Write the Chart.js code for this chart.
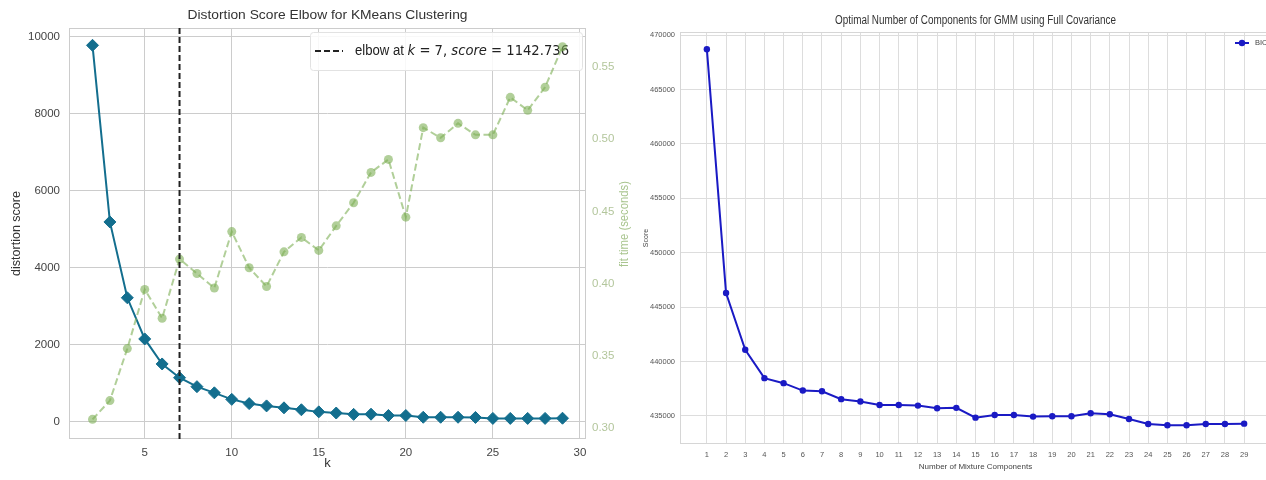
<!DOCTYPE html>
<html>
<head>
<meta charset="utf-8">
<title>KMeans elbow and GMM BIC</title>
<script src="https://cdn.jsdelivr.net/npm/chart.js@4.4.1/dist/chart.umd.min.js"></script>
<style>
  html, body { margin: 0; padding: 0; background: #fff; overflow: hidden; }
  #wrap { position: relative; width: 1266px; height: 480px; overflow: hidden; }
  #elbowChart { position: absolute; left: 0; top: 0; }
  #gmmChart { position: absolute; left: 640px; top: 0; }
</style>
</head>
<body>
<div id="wrap">
  <canvas id="elbowChart" width="640" height="480"></canvas>
  <canvas id="gmmChart" width="640" height="480"></canvas>
</div>
<script>
// ---- left panel: KMeans elbow ----
const elbowTitle = "Distortion Score Elbow for KMeans Clustering";
const kValues = [2, 3, 4, 5, 6, 7, 8, 9, 10, 11, 12, 13, 14, 15, 16, 17, 18, 19, 20, 21, 22, 23, 24, 25, 26, 27, 28, 29];
const distortion = [9780, 5190, 3220, 2150, 1500, 1142.736, 910, 750, 580, 470, 410, 360, 310, 255, 225, 190, 195, 160, 160, 115, 115, 115, 110, 85, 85, 85, 85, 90];
const fitTime = [0.306, 0.319, 0.355, 0.396, 0.376, 0.417, 0.407, 0.397, 0.436, 0.411, 0.398, 0.422, 0.432, 0.423, 0.440, 0.456, 0.477, 0.486, 0.446, 0.508, 0.501, 0.511, 0.503, 0.503, 0.529, 0.520, 0.536, 0.564];
const elbowK = 7;
const elbowScore = 1142.736;
const kTicks = [5, 10, 15, 20, 25, 30];
const distTicks = [0, 2000, 4000, 6000, 8000, 10000];
const timeTicks = [0.30, 0.35, 0.40, 0.45, 0.50, 0.55];

// ---- right panel: GMM BIC ----
const gmmTitle = "Optimal Number of Components for GMM using Full Covariance";
const components = [1, 2, 3, 4, 5, 6, 7, 8, 9, 10, 11, 12, 13, 14, 15, 16, 17, 18, 19, 20, 21, 22, 23, 24, 25, 26, 27, 28, 29];
const bic = [468700, 446300, 441080, 438470, 438010, 437330, 437270, 436540, 436320, 436010, 436010, 435950, 435710, 435740, 434840, 435090, 435090, 434940, 434970, 434970, 435250, 435150, 434720, 434260, 434140, 434140, 434260, 434260, 434290];
const bicTicks = [435000, 440000, 445000, 450000, 455000, 460000, 465000, 470000];

Chart.defaults.font.family = "'Liberation Sans', Arial, sans-serif";
Chart.defaults.animation = false;

// draw text squeezed / stretched to a given width
function fitText(ctx, text, x, y, width, font, color, angle) {
  ctx.save();
  ctx.font = font;
  ctx.fillStyle = color;
  ctx.textAlign = "center";
  ctx.textBaseline = "middle";
  ctx.translate(x, y);
  if (angle) ctx.rotate(angle);
  const w = ctx.measureText(text).width;
  ctx.scale(width / w, 1);
  ctx.fillText(text, 0, 0);
  ctx.restore();
}

const frame = {
  id: "frame",
  beforeDatasetsDraw(chart, args, opts) {
    const { ctx, chartArea: a } = chart;
    ctx.save();
    ctx.strokeStyle = opts.color;
    ctx.lineWidth = 1;
    ctx.strokeRect(Math.round(a.left) + 0.5, Math.round(a.top) + 0.5,
      Math.round(a.right - a.left) - 1, Math.round(a.bottom - a.top) - 1);
    ctx.restore();
  },
};

const toXY = (xs, ys) => xs.map((x, i) => ({ x: x, y: ys[i] }));

// left chart extras: title, legend box, elbow line, twin axis label
const elbowExtras = {
  id: "elbowExtras",
  beforeDatasetsDraw(chart) {
    const { ctx, chartArea: a } = chart;
    // legend box
    const bx = a.right - 276, by = a.top + 4, bw = 272, bh = 38;
    ctx.save();
    ctx.fillStyle = "rgba(255,255,255,0.85)";
    ctx.strokeStyle = "#e2e2e2";
    ctx.lineWidth = 1;
    ctx.beginPath();
    ctx.roundRect(bx + 0.5, by + 0.5, bw, bh, 3);
    ctx.fill();
    ctx.stroke();
    const my = by + bh / 2;
    ctx.strokeStyle = "#222";
    ctx.lineWidth = 2;
    ctx.setLineDash([6, 3]);
    ctx.beginPath();
    ctx.moveTo(bx + 5, my);
    ctx.lineTo(bx + 33, my);
    ctx.stroke();
    ctx.setLineDash([]);
    // mixed text: elbow at k = 7, score = 1142.736
    const parts = [
      ["elbow at ", "14px 'Liberation Sans', Arial, sans-serif"],
      ["k", "italic 14px 'DejaVu Sans', sans-serif"],
      [" = " + elbowK + ", ", "14px 'DejaVu Sans', sans-serif"],
      ["score", "italic 14px 'DejaVu Sans', sans-serif"],
      [" = " + elbowScore.toFixed(3), "14px 'DejaVu Sans', sans-serif"],
    ];
    let total = 0;
    parts.forEach(p => { ctx.font = p[1]; total += ctx.measureText(p[0]).width; });
    const sx = 214 / total;
    ctx.translate(bx + 45, my);
    ctx.scale(sx, 1);
    ctx.fillStyle = "#222";
    ctx.textBaseline = "middle";
    ctx.textAlign = "left";
    let cx = 0;
    parts.forEach(p => {
      ctx.font = p[1];
      ctx.fillText(p[0], cx, 0);
      cx += ctx.measureText(p[0]).width;
    });
    ctx.restore();
  },
  afterDatasetsDraw(chart) {
    const { ctx, chartArea: a, scales } = chart;
    const px = scales.x.getPixelForValue(elbowK);
    ctx.save();
    ctx.strokeStyle = "#222";
    ctx.lineWidth = 2;
    ctx.setLineDash([6, 3]);
    ctx.beginPath();
    ctx.moveTo(px, a.top);
    ctx.lineTo(px, a.bottom);
    ctx.stroke();
    ctx.restore();
  },
  afterDraw(chart) {
    const { ctx, chartArea: a } = chart;
    fitText(ctx, elbowTitle, (a.left + a.right) / 2, 15, 280, "13px 'Liberation Sans', Arial, sans-serif", "#333");
    fitText(ctx, "fit time (seconds)", chart.width - 15, 224, 86, "12.5px 'Liberation Sans', Arial, sans-serif", "#a9c58f", -Math.PI / 2);
  },
};

new Chart(document.getElementById("elbowChart"), {
  type: "line",
  data: {
    datasets: [
      {
        label: "distortion score",
        data: toXY(kValues, distortion),
        yAxisID: "y",
        borderColor: "#136e8e",
        backgroundColor: "#136e8e",
        borderWidth: 2,
        pointStyle: "rectRot",
        pointRadius: 6,
        pointBorderWidth: 1,
        order: 2,
      },
      {
        label: "fit time",
        data: toXY(kValues, fitTime),
        yAxisID: "y1",
        borderColor: "rgba(125, 175, 85, 0.6)",
        backgroundColor: "rgba(125, 175, 85, 0.6)",
        borderWidth: 2,
        borderDash: [7, 3.5],
        pointRadius: 4.5,
        pointBorderWidth: 0,
        order: 1,
      },
    ],
  },
  options: {
    responsive: false,
    layout: { padding: { top: 28, left: 0, right: 0, bottom: 0 } },
    plugins: { legend: { display: false }, tooltip: { enabled: false }, frame: { color: "#cccccc" } },
    scales: {
      x: {
        type: "linear",
        min: 0.65,
        max: 30.35,
        afterBuildTicks: s => { s.ticks = kTicks.map(v => ({ value: v })); },
        afterFit: s => { s.height = 41; },
        ticks: { color: "#444", font: { size: 11.5 }, padding: 7, maxRotation: 0 },
        grid: { color: "#cccccc", drawTicks: false },
        border: { display: false },
        title: { display: true, text: "k", color: "#333", font: { size: 13 }, padding: { top: 0, bottom: 9 } },
      },
      y: {
        type: "linear",
        position: "left",
        min: -450,
        max: 10230,
        afterBuildTicks: s => { s.ticks = distTicks.map(v => ({ value: v })); },
        afterFit: s => { s.width = 69; },
        ticks: { color: "#444", font: { size: 11.5 }, padding: 9, callback: v => String(v) },
        grid: { color: "#cccccc", drawTicks: false },
        border: { display: false },
        title: { display: true, text: "distortion score", color: "#333", font: { size: 12.5 }, padding: { top: 9, bottom: 0 } },
      },
      y1: {
        type: "linear",
        position: "right",
        min: 0.2924,
        max: 0.577,
        afterBuildTicks: s => { s.ticks = timeTicks.map(v => ({ value: v })); },
        afterFit: s => { s.width = 54; },
        ticks: { color: "#b3c69c", font: { size: 11.5 }, padding: 6, callback: v => v.toFixed(2) },
        grid: { display: false, drawTicks: false },
        border: { display: false },
      },
    },
  },
  plugins: [frame, elbowExtras],
});

// right chart extras: title and BIC legend
const gmmExtras = {
  id: "gmmExtras",
  afterDraw(chart) {
    const { ctx, chartArea: a } = chart;
    fitText(ctx, gmmTitle, (a.left + a.right) / 2, 21, 281, "12.5px 'Liberation Sans', Arial, sans-serif", "#333");
    const ly = a.top + 11;
    const lx = a.right - 36;
    ctx.save();
    ctx.strokeStyle = "#1a1ac4";
    ctx.fillStyle = "#1a1ac4";
    ctx.lineWidth = 2;
    ctx.beginPath();
    ctx.moveTo(lx, ly);
    ctx.lineTo(lx + 14, ly);
    ctx.stroke();
    ctx.beginPath();
    ctx.arc(lx + 7, ly, 3.2, 0, Math.PI * 2);
    ctx.fill();
    ctx.fillStyle = "#444";
    ctx.font = "7.5px 'Liberation Sans', Arial, sans-serif";
    ctx.textBaseline = "middle";
    ctx.fillText("BIC", lx + 20, ly);
    ctx.restore();
  },
};

new Chart(document.getElementById("gmmChart"), {
  type: "line",
  data: {
    datasets: [
      {
        label: "BIC",
        data: toXY(components, bic),
        borderColor: "#1a1ac4",
        backgroundColor: "#1a1ac4",
        borderWidth: 2,
        pointRadius: 3.2,
        pointBorderWidth: 0,
      },
    ],
  },
  options: {
    responsive: false,
    layout: { padding: { top: 32, left: 0, right: 9, bottom: 0 } },
    plugins: { legend: { display: false }, tooltip: { enabled: false }, frame: { color: "#d6d6d6" } },
    scales: {
      x: {
        type: "linear",
        min: -0.4,
        max: 30.4,
        afterBuildTicks: s => { s.ticks = components.map(v => ({ value: v })); },
        afterFit: s => { s.height = 36; },
        ticks: { color: "#555", font: { size: 7.5 }, padding: 6, maxRotation: 0, autoSkip: false },
        grid: { color: "#dddddd", drawTicks: false },
        border: { display: false },
        title: { display: true, text: "Number of Mixture Components", color: "#444", font: { size: 8 }, padding: { top: 0, bottom: 8 } },
      },
      y: {
        type: "linear",
        min: 432420,
        max: 470280,
        afterBuildTicks: s => { s.ticks = bicTicks.map(v => ({ value: v })); },
        afterFit: s => { s.width = 40; },
        ticks: { color: "#555", font: { size: 7.5 }, padding: 5, callback: v => String(v) },
        grid: { color: "#dddddd", drawTicks: false },
        border: { display: false },
        title: { display: true, text: "Score", color: "#444", font: { size: 7 }, padding: { top: 2, bottom: 0 } },
      },
    },
  },
  plugins: [frame, gmmExtras],
});
</script>
</body>
</html>
